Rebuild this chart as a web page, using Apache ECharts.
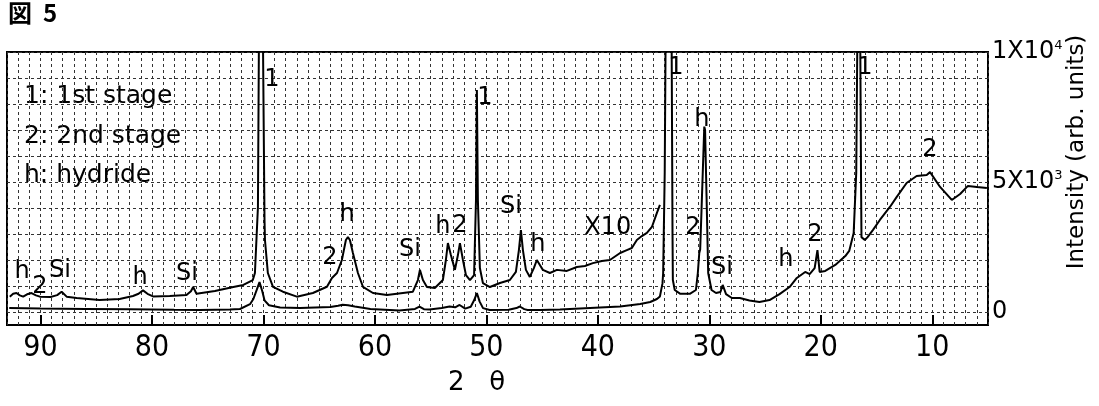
<!DOCTYPE html>
<html><head><meta charset="utf-8">
<script src="https://cdn.jsdelivr.net/npm/echarts@6/dist/echarts.min.js"></script>
<style>html,body{margin:0;padding:0;background:#fff}#c{width:1099px;height:406px}</style>
</head><body><div id="c"></div>
<script>
// x1 trace (lower curve): [2theta, intensity]
const x1Trace = [[92.8,150],[90,130],[86,120],[82,110],[78,90],[75.7,80],[73,100],[72.1,115],[71.2,300],[70.9,500],[70.6,850],[70.35,1150],[70.1,800],[69.9,450],[69.5,260],[68.5,175],[66.7,155],[64,190],[63.3,240],[62.9,280],[62.4,260],[61.8,210],[60.4,115],[57.8,60],[56.4,120],[56.0,210],[55.6,110],[55.1,95],[54,150],[53.3,210],[52.8,180],[52.4,270],[51.9,130],[51.4,200],[51.1,450],[50.85,730],[50.6,400],[50.3,150],[49.7,80],[48,90],[47.3,150],[47.0,212],[46.6,110],[46.3,80],[45.2,80],[43.4,96],[41.6,135],[39.8,173],[38.0,212],[36.2,308],[35.3,385],[34.7,500],[34.43,600],[34.2,1100],[34.14,1500],[34.0,5350],[33.92,10500],[33.65,40000],[33.38,10500],[33.3,3000],[33.27,1230],[33.1,846],[32.6,700],[31.75,700],[31.2,846],[31.03,1500],[30.9,2270],[30.82,2400],[30.7,3900],[30.45,7130],[30.38,7000],[30.25,4500],[30.1,1500],[29.8,846],[29.4,730],[29.0,770],[28.8,1040],[28.5,690],[27.98,540],[27.26,540],[26.4,440],[25.5,385],[24.6,460],[23.7,690],[22.8,960],[22.15,1310],[21.4,1540],[21.0,1460],[20.55,1690],[20.3,2380],[20.1,1540],[19.6,1580],[18.7,1810],[17.8,2150],[17.45,2350],[17.05,3040],[16.82,5350],[16.72,10500],[16.6,40000],[16.46,10500],[16.38,4500],[16.35,2880],[16.05,2770],[15.8,2880],[15.33,3150],[14.7,3540],[13.8,4040],[13.2,4420],[12.3,4960],[11.4,5230],[10.5,5270],[10.2,5380],[9.3,4810],[8.25,4310],[7.5,4540],[6.8,4850],[6.0,4810],[5.1,4770]];

// x10 trace (upper curve, magnified): [2theta, intensity]
const x10Trace = [[92.75,590],[92.45,700],[92.15,730],[91.85,640],[91.55,590],[91.2,680],[90.8,730],[90.4,640],[90.05,590],[89.1,580],[88.5,650],[88.1,780],[87.65,590],[86.75,540],[84.7,460],[82.9,500],[81.7,615],[81.2,700],[80.8,830],[80.4,700],[79.9,600],[78.4,615],[76.9,650],[76.5,800],[76.3,960],[76.0,700],[75.9,650],[74.35,810],[72.7,960],[71.8,1040],[70.95,1230],[70.76,1500],[70.49,4040],[70.4,10500],[70.22,40000],[70.04,10500],[69.9,3540],[69.86,2770],[69.6,1500],[69.14,970],[68.25,780],[67,590],[65.56,730],[64.3,970],[63.85,1310],[63.4,1500],[62.96,2000],[62.6,2770],[62.42,2880],[62.24,2770],[61.97,2270],[61.52,1500],[61.07,970],[60.17,730],[58.92,650],[57.48,730],[56.59,780],[56.14,1230],[55.96,1620],[55.69,1230],[55.33,960],[54.62,920],[53.9,1230],[53.63,2000],[53.45,2650],[53.18,2190],[52.82,1620],[52.55,2190],[52.37,2650],[52.1,2000],[51.83,1420],[51.47,1230],[51.1,1420],[50.93,4310],[50.85,8540],[50.76,4310],[50.58,1690],[50.31,1115],[49.68,960],[48.78,1115],[47.89,1230],[47.35,1540],[47.08,2380],[46.9,3150],[46.72,2380],[46.45,1620],[46.1,1350],[45.74,1690],[45.47,2000],[45.2,1810],[44.93,1620],[44.3,1500],[43.67,1620],[42.78,1580],[41.88,1730],[41.16,1770],[40.44,1880],[39.64,1960],[38.92,2000],[38.0,2270],[37.4,2380],[36.95,2460],[36.5,2770],[36.05,2920],[35.6,3040],[35.15,3270],[34.7,3810],[34.43,4120]];

// peak annotations: [2theta, intensity, text]
const peakLabels = [[69.23,8920,'1'],[64.03,2080,'2'],[62.5,3730,'h'],[56.86,2380,'Si'],[53.9,3270,'h'],[52.37,3310,'2'],[50.13,8230,'1'],[47.8,4040,'Si'],[45.38,2580,'h'],[39.1,3230,'X10'],[33.0,9380,'1'],[31.48,3230,'2'],[30.67,7380,'h'],[28.87,1690,'Si'],[23.13,2000,'h'],[20.53,2960,'2'],[16.05,9380,'1'],[10.22,6230,'2'],[91.65,1540,'h'],[90.04,960,'2'],[88.25,1580,'Si'],[81.07,1310,'h'],[76.86,1460,'Si']];

const legendLines = ['1: 1st stage','2: 2nd stage','h: hydride'];
const xTickValues = [10,20,30,40,50,60,70,80,90];
const yGridValues = [0,1000,2000,3000,4000,5000,6000,7000,8000,9000,10000];
const yLabelValues = [0,5000,10000];
const yLabelTexts = ['0','5X10{s|3}','1X10{s|4}'];

const chart = echarts.init(document.getElementById('c'), null, {renderer:'canvas'});
const gridLine = {show:true, lineStyle:{color:'#333', width:1, type:[3,3]}};
const xCommon = {type:'value', min:5, max:93, inverse:true, gridIndex:0, position:'bottom'};
chart.setOption({
  animation:false,
  backgroundColor:'#fff',
  grid:{left:7, right:111, top:52, bottom:81, show:true, borderColor:'#000', borderWidth:2, backgroundColor:'transparent'},
  xAxis:[
    Object.assign({}, xCommon, {interval:1, splitLine:gridLine, axisLine:{show:false}, axisTick:{show:false}, axisLabel:{show:false}}),
    Object.assign({}, xCommon, {splitLine:{show:false}, axisLine:{show:false},
      axisTick:{show:true, inside:true, length:10, customValues:xTickValues, lineStyle:{color:'#000', width:2}},
      axisLabel:{show:true, customValues:xTickValues, margin:8, color:'#000', fontSize:30, fontFamily:'"Liberation Sans Narrow","DejaVu Sans Condensed","Liberation Sans",sans-serif'}})
  ],
  yAxis:[{
    type:'value', min:-500, max:10000, position:'right',
    splitLine:gridLine, axisLine:{show:false},
    axisTick:{show:false, customValues:yGridValues},
    axisLabel:{show:true, customValues:yLabelValues, margin:4, color:'#000', fontSize:24, fontFamily:'"DejaVu Sans",sans-serif',
      formatter:function(v){ return yLabelTexts[yLabelValues.indexOf(v)]; },
      rich:{s:{fontSize:13, verticalAlign:'top', padding:[0,0,12,0], fontFamily:'"DejaVu Sans",sans-serif', color:'#000'}}}
  }],
  graphic:[
    {type:'text', left:8, top:1, style:{text:'図  5', font:'bold 24px "Noto Sans CJK JP"', fill:'#000'}},
    {type:'text', x:1077, y:152, rotation:Math.PI/2, style:{text:'Intensity (arb. units)', font:'23px "DejaVu Sans"', fill:'#000', align:'center', verticalAlign:'middle'}},
    {type:'text', left:448, top:370, style:{text:'2   θ', font:'26px "DejaVu Sans"', fill:'#000'}},
    {type:'text', left:24, top:84, style:{text:legendLines[0], font:'25px "DejaVu Sans"', fill:'#000'}},
    {type:'text', left:24, top:124, style:{text:legendLines[1], font:'25px "DejaVu Sans"', fill:'#000'}},
    {type:'text', left:24, top:163, style:{text:legendLines[2], font:'25px "DejaVu Sans"', fill:'#000'}}
  ],
  series:[
    {type:'line', data:x1Trace, xAxisIndex:0, yAxisIndex:0, showSymbol:false, clip:true, lineStyle:{color:'#000', width:2}},
    {type:'line', data:x10Trace, xAxisIndex:0, yAxisIndex:0, showSymbol:false, clip:true, lineStyle:{color:'#000', width:2}},
    {type:'scatter', data:peakLabels, xAxisIndex:0, yAxisIndex:0, symbolSize:0, itemStyle:{color:'#000', opacity:1},
      label:{show:true, position:'inside', opacity:1, formatter:function(p){return p.data[2];}, color:'#000', textBorderWidth:0, fontSize:24, fontFamily:'"DejaVu Sans",sans-serif'}}
  ]
});
</script></body></html>
